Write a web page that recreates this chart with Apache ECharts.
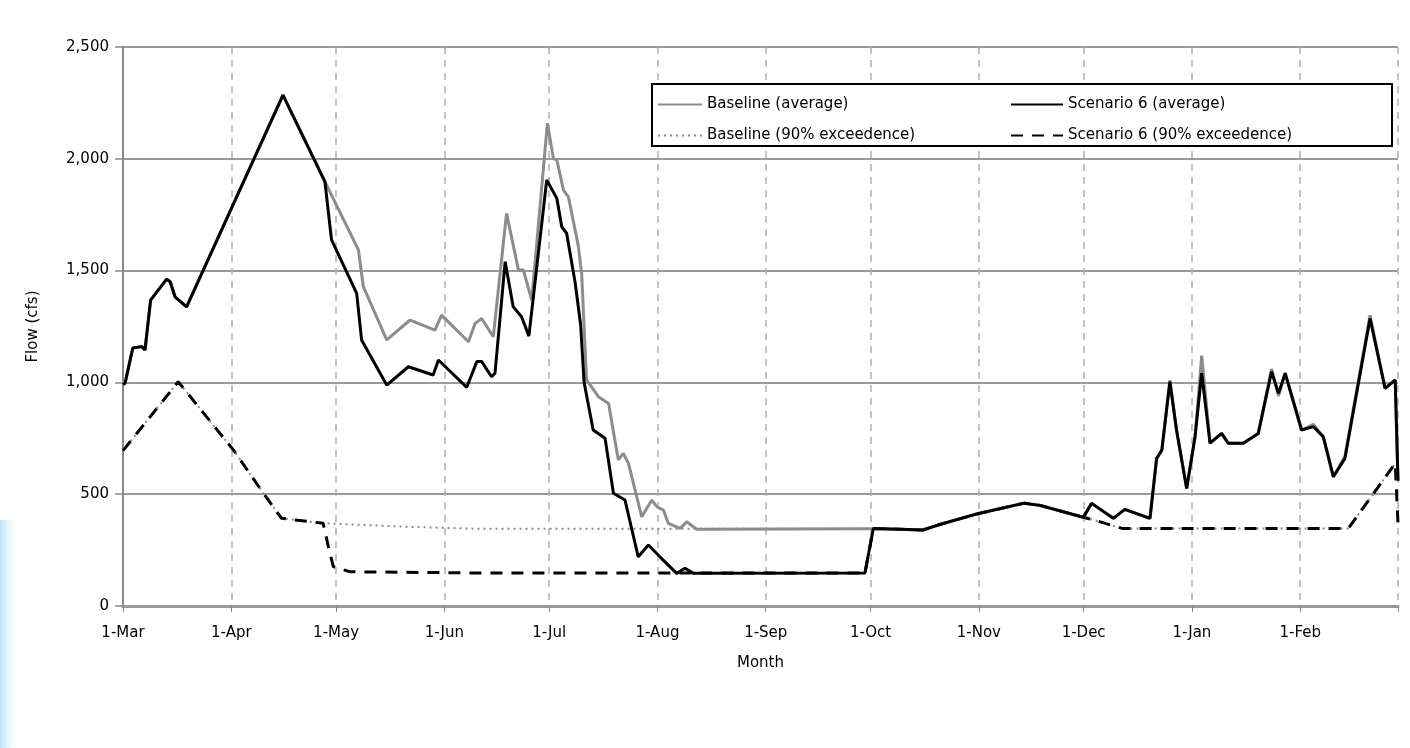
<!DOCTYPE html>
<html>
<head>
<meta charset="utf-8">
<script src="https://cdn.jsdelivr.net/npm/echarts@6/dist/echarts.min.js"></script>
<style>html,body{margin:0;padding:0;background:#fff}#c{width:1410px;height:748px}</style>
</head>
<body>
<div id="c"></div>
<script>
// Day-of-year (0 = 1-Mar) positions of month ticks and their labels
const monthDays = [0, 31, 61, 92, 122, 153, 184, 214, 245, 275, 306, 337];
const monthLabels = ['1-Mar','1-Apr','1-May','1-Jun','1-Jul','1-Aug','1-Sep','1-Oct','1-Nov','1-Dec','1-Jan','1-Feb'];
const yTicks = [0, 500, 1000, 1500, 2000, 2500];

// Series values as [day, cfs]
const baselineAvg = [[0,990],[0.6,997],[2.8,1154],[5.4,1160],[6.3,1145],[7.9,1368],[12.5,1462],[13.5,1450],[14.9,1383],[18.2,1338],[45.8,2285],[57.8,1898],
 [67.4,1592],[68.8,1428],[75.5,1190],[82.2,1279],[89.3,1234],[91.2,1301],[98.9,1182],[100.8,1264],[102.7,1286],[106,1204],[109.8,1756],[113.2,1503],[114.6,1503],[117,1368],
 [121.5,2159],[123.2,2001],[124.2,1995],[126.1,1860],[127.5,1830],[130.3,1614],[131.3,1488],[132.7,1011],[136.1,936],[139,906],[141.8,653],[143.2,683],[144.7,638],
 [148.5,399],[151.4,474],[152.8,444],[154.7,429],[156.1,370],[159.5,347],[161.4,377],[164.2,343],[214,345],[214.8,347],[229,340],[233.3,362],[244,410],[258,460],
 [262.5,450],[274.9,397],[277.3,459],[283.5,392],[286.8,432],[294,392],[295.9,660],[297.4,698],[299.7,1010],[301.6,787],[304.5,526],[306.9,757],[308.8,1120],[311.2,728],
 [314.5,772],[316.4,728],[320.7,728],[325,772],[328.8,1060],[330.8,940],[332.7,1041],[337.4,787],[340.8,812],[343.6,757],[346.5,578],[349.8,670],[357,1300],[361.3,973],[364.2,1011],[365,560]];

const scenarioAvg = [[0,990],[0.6,997],[2.8,1154],[5.4,1160],[6.3,1145],[7.9,1368],[12.5,1462],[13.5,1450],[14.9,1383],[18.2,1338],[45.8,2285],[57.8,1898],
 [59.7,1637],[66.9,1398],[68.3,1190],[75.5,988],[81.7,1070],[88.8,1033],[90.3,1100],[98.4,978],[101.3,1093],[102.7,1093],[105.5,1025],[106.5,1041],[109.4,1540],
 [111.7,1338],[114.1,1294],[116.2,1207],[121.3,1905],[124.2,1823],[125.6,1696],[127,1667],[129.4,1450],[131,1260],[132,1000],[134.6,787],[138,750],[140.4,504],
 [143.7,474],[147.5,220],[150.4,273],[153.7,220],[158.5,146],[160.9,169],[163.3,146],[212.4,148],[214.8,347],[229,340],[233.3,362],[244,410],[258,460],
 [262.5,450],[274.9,397],[277.3,459],[283.5,392],[286.8,432],[294,392],[295.9,660],[297.4,698],[299.7,1003],[301.6,787],[304.5,526],[306.9,757],[308.8,1041],[311.2,728],
 [314.5,772],[316.4,728],[320.7,728],[325,772],[328.8,1048],[330.8,951],[332.7,1041],[337.4,787],[340.8,802],[343.6,757],[346.5,578],[349.8,660],[357,1286],[361.3,973],[364.2,1011],[365,560]];

const baseline90 = [[0,695],[15.8,1003],[31.6,698],[40.2,504],[45.4,392],[57.3,370],[80,355],[102.2,345],[214,345],[214.8,347],[229,340],[233.3,362],[244,410],[258,460],
 [262.5,450],[274.9,397],[279,380],[286,347],[350.8,347],[364.2,638],[365,650]];

const scenario90 = [[0,695],[15.8,1003],[31.6,698],[40.2,504],[45.4,392],[57.3,370],[58.8,265],[60.2,176],[65,153],[100,148],[212.4,148],[214.8,347],[229,340],[233.3,362],[244,410],[258,460],
 [262.5,450],[274.9,397],[279,380],[286,347],[350.8,347],[364.2,638],[365,370]];

const names = ['Baseline (average)', 'Scenario 6 (average)', 'Baseline (90% exceedence)', 'Scenario 6 (90% exceedence)'];

const FONT = 'DejaVu Sans';
const chart = echarts.init(document.getElementById('c'), null, {renderer: 'canvas'});
const tickVals = monthDays.concat([365]);

chart.setOption({
  animation: false,
  backgroundColor: '#fff',
  textStyle: {fontFamily: FONT},
  grid: {left: 123, right: 12, top: 47, bottom: 142, containLabel: false, outerBoundsMode: 'none'},
  xAxis: {
    type: 'value', min: 0, max: 365,
    name: 'Month', nameLocation: 'middle', nameGap: 50,
    nameTextStyle: {fontFamily: FONT, fontSize: 15, color: '#000'},
    axisLine: {show: true, onZero: false, lineStyle: {color: '#999', width: 3}},
    axisTick: {show: true, length: 6, inside: false, customValues: tickVals, lineStyle: {color: '#888', width: 1}},
    axisLabel: {customValues: monthDays, margin: 20, fontFamily: FONT, fontSize: 15, color: '#000',
      formatter: v => { const i = monthDays.indexOf(Math.round(v)); return i >= 0 ? monthLabels[i] : ''; }},
    splitLine: {show: true, lineStyle: {color: '#b0b0b0', width: 1.5, type: [7, 6]}}
  },
  yAxis: {
    type: 'value', min: 0, max: 2500, interval: 500,
    name: 'Flow (cfs)', nameLocation: 'middle', nameGap: 82, nameRotate: 90,
    nameTextStyle: {fontFamily: FONT, fontSize: 15, color: '#000'},
    axisLine: {show: true, lineStyle: {color: '#888', width: 2}},
    axisTick: {show: true, length: 8, lineStyle: {color: '#888', width: 1.5}},
    axisLabel: {margin: 14, fontFamily: FONT, fontSize: 15, color: '#000',
      formatter: v => v.toLocaleString('en-US')},
    splitLine: {show: true, lineStyle: {color: '#9a9a9a', width: 2}}
  },
  legend: [
    {data: [names[0], names[2]], orient: 'vertical', left: 652, top: 92, itemWidth: 44, itemHeight: 14, itemGap: 16, z: 5,
     itemStyle: {opacity: 0}, textStyle: {fontFamily: FONT, fontSize: 15, color: '#000'}},
    {data: [names[1], names[3]], orient: 'vertical', left: 1005, top: 92, itemWidth: 52, itemHeight: 14, itemGap: 16, z: 5,
     itemStyle: {opacity: 0}, textStyle: {fontFamily: FONT, fontSize: 15, color: '#000'}}
  ],
  graphic: [
    {type: 'rect', z: 4, shape: {x: 652, y: 84, width: 740, height: 62}, style: {fill: '#fff', stroke: '#000', lineWidth: 2}},
    {type: 'rect', z: 1, shape: {x: 0, y: 520, width: 16, height: 228},
     style: {fill: new echarts.graphic.LinearGradient(0, 0, 1, 0, [{offset: 0, color: '#b2ddf3'}, {offset: 1, color: 'rgba(225,242,252,0)'}]), opacity: 0.9}}
  ],
  series: [
    {name: names[2], type: 'line', data: baseline90, symbol: 'none', z: 2,
     lineStyle: {color: '#8a8a8a', width: 2, type: [2, 4]}, itemStyle: {color: '#8a8a8a'}},
    {name: names[3], type: 'line', data: scenario90, symbol: 'none', z: 3,
     lineStyle: {color: '#000', width: 3, type: [12, 9]}, itemStyle: {color: '#000'}},
    {name: names[0], type: 'line', data: baselineAvg, symbol: 'none', z: 3,
     lineStyle: {color: '#8c8c8c', width: 3}, itemStyle: {color: '#8c8c8c'}},
    {name: names[1], type: 'line', data: scenarioAvg, symbol: 'none', z: 4,
     lineStyle: {color: '#000', width: 3}, itemStyle: {color: '#000'}}
  ]
});
</script>
</body>
</html>
